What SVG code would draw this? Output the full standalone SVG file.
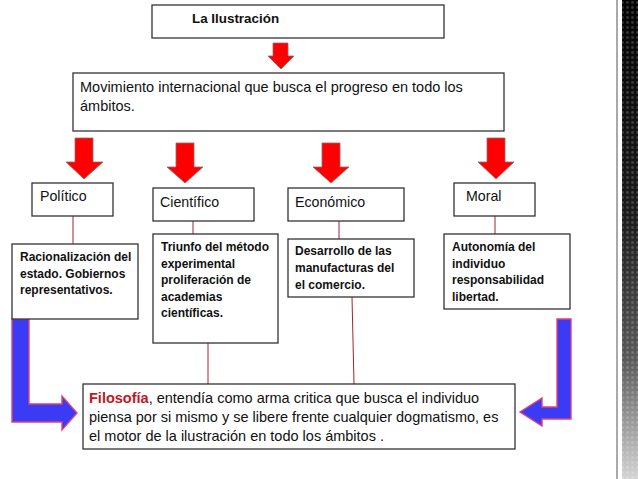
<svg xmlns="http://www.w3.org/2000/svg" width="638" height="479" viewBox="0 0 638 479">
<style>
  .box { fill: #ffffff; stroke: #333333; stroke-width: 1.3; }
  .t { font-family: "Liberation Sans", Arial, sans-serif; fill: #111111; }
  .lbl { font-size: 14.2px; }
  .main { font-size: 14.5px; }
  .b { font-size: 12px; font-weight: bold; }
  .red { fill: #ff0000; stroke: #8c6a6a; stroke-width: 0.8; }
  .blue { fill: #3b3bf5; stroke: #e0407a; stroke-width: 1.4; }
  .conn { stroke: #a3222c; stroke-width: 1; fill: none; }
</style>
<defs>
  <linearGradient id="band" x1="0" y1="0" x2="0" y2="1">
    <stop offset="0" stop-color="#050505"/>
    <stop offset="0.45" stop-color="#1c1c1c"/>
    <stop offset="0.75" stop-color="#5a5a5a"/>
    <stop offset="1" stop-color="#d4d4d4"/>
  </linearGradient>
  <pattern id="dots" width="5" height="5" patternUnits="userSpaceOnUse">
    <circle cx="2.5" cy="2.5" r="1.4" fill="#ffffff" fill-opacity="0.18"/>
  </pattern>
</defs>
<rect x="0" y="0" width="638" height="479" fill="#ffffff"/>

<g id="side-band">
  <line x1="617" y1="0" x2="617" y2="479" stroke="#555555" stroke-width="1"/>
  <rect x="622" y="0" width="16" height="479" fill="url(#band)"/>
  <rect x="622" y="0" width="16" height="479" fill="url(#dots)"/>
</g>

<g id="connectors">
  <polygon class="red" points="273,43 288,43 288,56 294,56 281,69 268,56 273,56"/>
  <polygon class="red" points="75,138 93,138 93,162 103,162 84,179 66,162 75,162"/>
  <polygon class="red" points="176,143 194,143 194,167 203,167 185,183 167,167 176,167"/>
  <polygon class="red" points="322,143 340,143 340,167 349,167 331,183 313,167 322,167"/>
  <polygon class="red" points="487,138 505,138 505,162 514,162 496,179 478,162 487,162"/>
  <line class="conn" x1="73" y1="216" x2="73" y2="244"/>
  <line class="conn" x1="193" y1="221" x2="193" y2="234"/>
  <line class="conn" x1="339" y1="221" x2="339" y2="239"/>
  <line class="conn" x1="495" y1="216" x2="495" y2="234"/>
  <line class="conn" x1="208" y1="343" x2="208" y2="384"/>
  <line class="conn" x1="352" y1="297" x2="354" y2="384"/>
  <polygon class="blue" points="12,319 29,319 29,404 62,404 62,396 77,413 62,430 62,422 12,422"/>
  <polygon class="blue" points="557,319 571,319 571,419 542,419 542,426 520,412 542,398 542,407 557,407"/>
</g>

<g id="n-ilustracion">
  <rect class="box" x="152" y="5" width="292" height="33"/>
  <text class="t" x="192" y="23" font-size="13.4" font-weight="bold">La Ilustración</text>
</g>

<g id="n-movimiento">
  <rect class="box" x="73" y="73" width="431" height="58"/>
  <text class="t main" x="80" y="92">Movimiento internacional que busca el progreso en todo los</text>
  <text class="t main" x="80" y="111">ámbitos.</text>
</g>

<g id="n-politico">
  <rect class="box" x="32" y="183" width="81" height="33"/>
  <text class="t lbl" x="40" y="201">Político</text>
</g>
<g id="n-cientifico">
  <rect class="box" x="153" y="188" width="101" height="33"/>
  <text class="t lbl" x="160" y="207">Científico</text>
</g>
<g id="n-economico">
  <rect class="box" x="288" y="188" width="116" height="33"/>
  <text class="t lbl" x="295" y="207">Económico</text>
</g>
<g id="n-moral">
  <rect class="box" x="454" y="183" width="81" height="33"/>
  <text class="t lbl" x="466" y="201">Moral</text>
</g>

<g id="n-racionalizacion">
  <rect class="box" x="12" y="244" width="126" height="75"/>
  <text class="t b" x="20" y="261">Racionalización del</text>
  <text class="t b" x="20" y="277.5">estado. Gobiernos</text>
  <text class="t b" x="20" y="294">representativos.</text>
</g>
<g id="n-triunfo">
  <rect class="box" x="153" y="234" width="125" height="109"/>
  <text class="t b" x="161" y="251">Triunfo del método</text>
  <text class="t b" x="161" y="267.5">experimental</text>
  <text class="t b" x="161" y="284">proliferación de</text>
  <text class="t b" x="161" y="300.5">academias</text>
  <text class="t b" x="161" y="317">científicas.</text>
</g>
<g id="n-desarrollo">
  <rect class="box" x="288" y="239" width="126" height="58"/>
  <text class="t b" x="295" y="255">Desarrollo de las</text>
  <text class="t b" x="295" y="272">manufacturas del</text>
  <text class="t b" x="295" y="289">el comercio.</text>
</g>
<g id="n-autonomia">
  <rect class="box" x="444" y="234" width="126" height="75"/>
  <text class="t b" x="452" y="251">Autonomía del</text>
  <text class="t b" x="452" y="267.5">individuo</text>
  <text class="t b" x="452" y="284">responsabilidad</text>
  <text class="t b" x="452" y="300.5">libertad.</text>
</g>

<g id="n-filosofia">
  <rect class="box" x="83" y="384" width="432" height="65"/>
  <text class="t main" x="89" y="403"><tspan fill="#c8141e" font-weight="bold">Filosofía</tspan>, entendía como arma critica que busca el individuo</text>
  <text class="t main" x="89" y="422">piensa por si mismo y se libere frente cualquier dogmatismo, es</text>
  <text class="t main" x="89" y="441">el motor de la ilustración en todo los ámbitos .</text>
</g>
</svg>
